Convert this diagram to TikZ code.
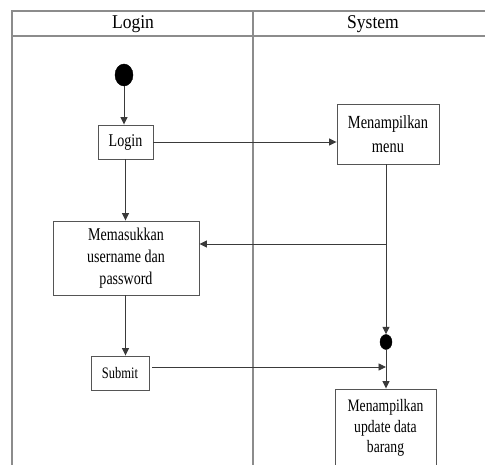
\documentclass[tikz,border=0pt]{standalone}
\usepackage{fontspec}
\setmainfont{Liberation Serif}
\newfontfamily\hdrfont[FakeStretch=0.9]{Liberation Serif}
\newfontfamily\boxfont[FakeStretch=0.78]{Liberation Serif}
\usetikzlibrary{arrows.meta,shapes.geometric}
\definecolor{framegray}{HTML}{8C8C8C}
\definecolor{boxgray}{HTML}{555555}
\definecolor{arrgray}{HTML}{3A3A3A}
\tikzset{
  lane/.style={draw=framegray, line width=1.3pt},
  hdr/.style={font=\hdrfont\fontsize{19.5}{22}\selectfont, text=black},
  actbox/.style={draw=boxgray, line width=0.9pt, rectangle, align=center, inner sep=2pt,
    font=\boxfont\fontsize{18}{22}\selectfont, text=black},
  blob/.style={ellipse, fill=black, draw=black, inner sep=0pt},
  flow/.style={draw=arrgray, line width=0.9pt, -{Triangle[length=7.5pt,width=7pt]}},
  plain/.style={draw=arrgray, line width=0.9pt}
}
\begin{document}
\begin{tikzpicture}[x=1pt,y=-1pt]
\useasboundingbox (0,0) rectangle (485,465);
% swimlane frame
\draw[lane] (12,465) -- (12,11) -- (490,11);
\draw[lane] (12,36) -- (490,36);
\draw[lane] (253,11) -- (253,470);
\node[hdr] (hlogin) at (133,24) {Login};
\node[hdr] (hsys) at (373,24) {System};
% nodes
\node[blob, minimum width=18pt, minimum height=22pt] (start) at (124,75) {};
\node[actbox, minimum width=55pt, minimum height=34pt] (login) at (125.5,142) {Login};
\node[actbox, minimum width=102pt, minimum height=60pt, font=\boxfont\fontsize{18.5}{24}\selectfont] (menu) at (388,134) {Menampilkan\\menu};
\node[actbox, minimum width=146pt, minimum height=74pt] (masuk) at (126,258) {Memasukkan\\username dan\\password};
\node[actbox, minimum width=58pt, minimum height=34pt, font=\boxfont\fontsize{16}{20}\selectfont] (submit) at (120,373) {Submit};
\node[blob, minimum width=12pt, minimum height=15pt] (dot) at (386,342) {};
\node[actbox, minimum width=101pt, minimum height=78pt, font=\boxfont\fontsize{17.5}{20.5}\selectfont] (update) at (385.5,428) {Menampilkan\\update data\\barang};
\coordinate (j) at (386,244);
\coordinate (k) at (386,367);
% connectors
\draw[flow] (start.south) -- (start.south |- login.north);
\draw[flow] (login.east) -- (login.east -| menu.west);
\draw[plain] (menu.south -| j) -- (j);
\draw[flow] (j) -- (j -| masuk.east);
\draw[flow] (j) -- (dot.north);
\draw[flow] (login.south) -- (login.south |- masuk.north);
\draw[flow] (masuk.south -| login.south) -- (submit.north -| login.south);
\draw[flow] ([shift={(3,-6)}]submit.east) -- (k);
\draw[flow] (dot.south) -- (update.north -| dot.south);
\end{tikzpicture}
\end{document}
